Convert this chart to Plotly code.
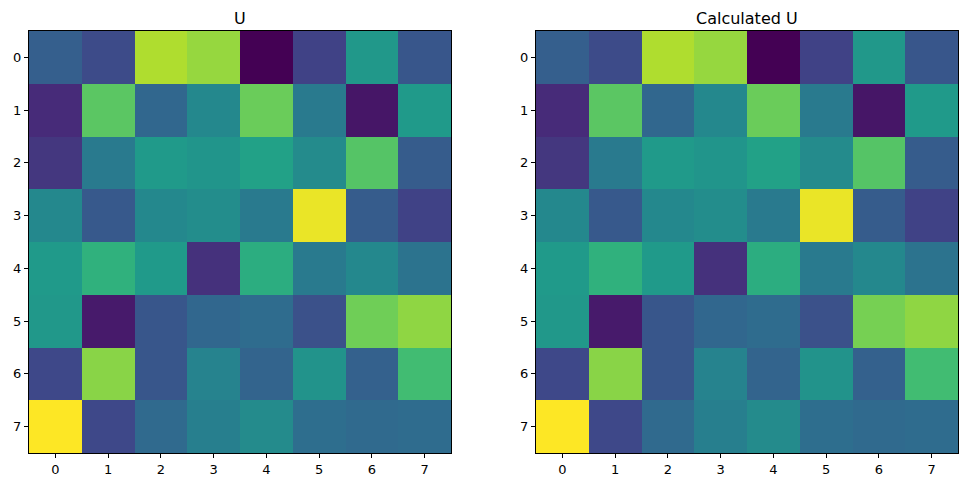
import plotly.graph_objects as go

cols = [0, 1, 2, 3, 4, 5, 6, 7]
rows = [0, 1, 2, 3, 4, 5, 6, 7]
tick_labels = ["0", "1", "2", "3", "4", "5", "6", "7"]

U = [
    [0.30, 0.23, 0.88, 0.84, 0.00, 0.20, 0.53, 0.27],
    [0.12, 0.74, 0.33, 0.47, 0.77, 0.41, 0.06, 0.54],
    [0.16, 0.41, 0.54, 0.52, 0.57, 0.48, 0.73, 0.29],
    [0.47, 0.28, 0.47, 0.49, 0.41, 0.97, 0.29, 0.20],
    [0.54, 0.64, 0.54, 0.14, 0.62, 0.41, 0.47, 0.38],
    [0.53, 0.07, 0.27, 0.33, 0.35, 0.25, 0.78, 0.83],
    [0.22, 0.82, 0.27, 0.45, 0.32, 0.51, 0.31, 0.69],
    [1.00, 0.22, 0.34, 0.43, 0.48, 0.36, 0.34, 0.35],
]

U_calc = [
    [0.30, 0.23, 0.88, 0.84, 0.00, 0.20, 0.53, 0.27],
    [0.12, 0.74, 0.33, 0.47, 0.77, 0.41, 0.06, 0.54],
    [0.16, 0.41, 0.54, 0.52, 0.57, 0.48, 0.73, 0.29],
    [0.47, 0.28, 0.47, 0.49, 0.41, 0.97, 0.29, 0.20],
    [0.54, 0.64, 0.54, 0.14, 0.62, 0.41, 0.47, 0.38],
    [0.53, 0.07, 0.27, 0.33, 0.35, 0.25, 0.79, 0.83],
    [0.22, 0.82, 0.27, 0.45, 0.32, 0.51, 0.31, 0.69],
    [1.00, 0.22, 0.34, 0.43, 0.48, 0.36, 0.34, 0.35],
]

titles = ["U", "Calculated U"]

# page has an 8px body margin; figure covers page pixels 8..968 x 8..488
OFF = 8
W, H = 968 - OFF, 488 - OFF
fig = go.Figure()

fig.add_trace(go.Heatmap(z=U, x=cols, y=rows, colorscale="Viridis", zmin=0, zmax=1,
                         showscale=False, xaxis="x", yaxis="y"))
fig.add_trace(go.Heatmap(z=U_calc, x=cols, y=rows, colorscale="Viridis", zmin=0, zmax=1,
                         showscale=False, xaxis="x2", yaxis="y2"))

def px_x(p):
    return (p - OFF) / W

def px_y(p):
    return 1 - (p - OFF) / H

top, bottom = 31, 453
doms = [(29, 451), (536, 958)]

axis_common = dict(
    showgrid=False, zeroline=False, showline=True, linecolor="black", linewidth=1,
    mirror=True, ticks="outside", ticklen=4, tickcolor="black", tickwidth=1,
    tickfont=dict(family="DejaVu Sans", size=13, color="black"),
    tickmode="array", tickvals=cols, ticktext=tick_labels, automargin=False,
)

layout = dict(
    width=W, height=H, margin=dict(l=0, r=0, t=0, b=0, autoexpand=False),
    paper_bgcolor="white", plot_bgcolor="white", showlegend=False,
)
for i, (x0, x1) in enumerate(doms):
    sfx = "" if i == 0 else str(i + 1)
    layout["xaxis" + sfx] = dict(axis_common, domain=[px_x(x0), px_x(x1)], range=[-0.5, 7.5],
                                 anchor="y" + sfx)
    layout["yaxis" + sfx] = dict(axis_common, domain=[px_y(bottom), px_y(top)], range=[7.5, -0.5],
                                 anchor="x" + sfx)

fig.update_layout(**layout)

for i, (x0, x1) in enumerate(doms):
    fig.add_annotation(text=titles[i], x=px_x((x0 + x1) / 2), y=px_y(top - 1),
                       xref="paper", yref="paper", xanchor="center", yanchor="bottom",
                       showarrow=False, font=dict(family="DejaVu Sans", size=16, color="black"))

fig.write_html("out.html")
